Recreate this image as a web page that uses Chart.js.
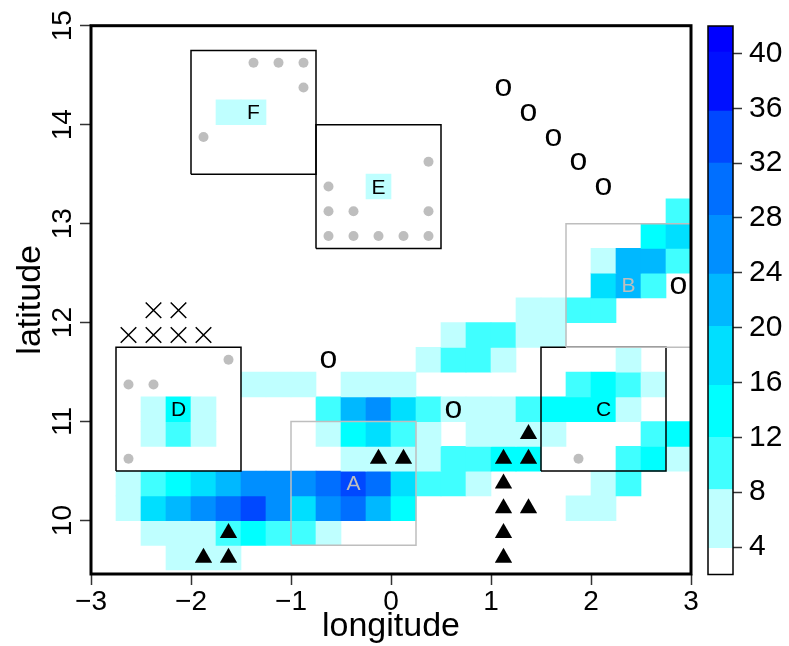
<!DOCTYPE html>
<html>
<head>
<meta charset="utf-8">
<title>longitude latitude grid</title>
<script src="https://cdn.jsdelivr.net/npm/chart.js@4"></script>
<style>
  html, body { margin: 0; padding: 0; background: #fff; }
  canvas { position: absolute; top: 0; }
  #gridChart { left: 0; }
  #barChart { left: 700px; }
</style>
</head>
<body>
<canvas id="gridChart" width="700" height="646"></canvas>
<canvas id="barChart" width="89" height="646"></canvas>
<script>
// --- Data ---
const _ = null;
const lons = [-2.875, -2.625, -2.375, -2.125, -1.875, -1.625, -1.375, -1.125, -0.875, -0.625, -0.375, -0.125,
              0.125, 0.375, 0.625, 0.875, 1.125, 1.375, 1.625, 1.875, 2.125, 2.375, 2.625, 2.875];
const lats = [9.625, 9.875, 10.125, 10.375, 10.625, 10.875, 11.125, 11.375, 11.625, 11.875,
              12.125, 12.375, 12.625, 12.875, 13.125, 13.375, 14.125];
const gridValues = [
  [_, _, _, 6, 6, 6, _, _, _, _, _, _, _, _, _, _, _, _, _, _, _, _, _, _],
  [_, _, 6, 6, 6, 10, 14, 10, 10, 6, _, _, _, _, _, _, _, _, _, _, _, _, _, _],
  [_, 6, 18, 22, 26, 30, 34, 26, 18, 26, 30, 22, 14, _, _, _, _, _, _, 6, 6, _, _, _],
  [_, 6, 10, 14, 18, 22, 26, 26, 26, 30, 34, 30, 18, 10, 10, 6, _, _, _, _, 6, 10, _, _],
  [_, _, _, _, _, _, _, _, _, _, 6, 6, 6, 6, 10, 10, 14, 14, _, _, _, 10, 14, 6],
  [_, _, 6, 10, 6, _, _, _, _, 6, 14, 18, 10, 6, _, 6, 6, 6, 6, _, _, _, 10, 14],
  [_, _, 6, 14, 6, _, _, _, _, 10, 22, 26, 18, 10, 6, 6, 6, 10, 14, 14, 14, 6, _, _],
  [_, _, _, _, _, _, 6, 6, 6, _, 6, 6, 6, _, _, _, _, _, _, 10, 14, 10, 6, _],
  [_, _, _, _, _, _, _, _, _, _, _, _, _, 6, 10, 10, 6, _, _, _, _, 6, _, _],
  [_, _, _, _, _, _, _, _, _, _, _, _, _, _, 6, 10, 10, 6, 6, _, _, _, _, _],
  [_, _, _, _, _, _, _, _, _, _, _, _, _, _, _, _, _, 6, 6, 10, 10, _, _, _],
  [_, _, _, _, _, _, _, _, _, _, _, _, _, _, _, _, _, _, _, _, 18, 22, 10, _],
  [_, _, _, _, _, _, _, _, _, _, _, _, _, _, _, _, _, _, _, _, 6, 22, 22, 10],
  [_, _, _, _, _, _, _, _, _, _, _, _, _, _, _, _, _, _, _, _, _, _, 14, 18],
  [_, _, _, _, _, _, _, _, _, _, _, _, _, _, _, _, _, _, _, _, _, _, _, 10],
  [_, _, _, _, _, _, _, _, _, _, _, 6, _, _, _, _, _, _, _, _, _, _, _, _],
  [_, _, _, _, _, 6, 6, _, _, _, _, _, _, _, _, _, _, _, _, _, _, _, _, _]
];

const xTicks = [-3, -2, -1, 0, 1, 2, 3];
const yTicks = [10, 11, 12, 13, 14, 15];
const barTicks = [4, 8, 12, 16, 20, 24, 28, 32, 36, 40];
const colorBreaks = [2, 3.9, 8.2, 12, 15.8, 20.1, 23.9, 28.2, 32, 35.8, 40.1, 42];
const palette = ['#ffffff', '#bfffff', '#40ffff', '#00ffff', '#00dfff', '#00b8ff',
                 '#008fff', '#006fff', '#0048ff', '#0010ff', '#0000ff'];

const triangleLon = [-1.875, -1.625, -1.625, -0.125, 0.125, 1.125, 1.375, 1.375, 1.125, 1.125, 1.375, 1.125, 1.125];
const triangleLat = [9.625, 9.625, 9.875, 10.625, 10.625, 10.625, 10.625, 10.875, 10.375, 10.125, 10.125, 9.875, 9.625];
const greyLon = [-1.375, -1.125, -0.875, -0.875, -1.875, 0.375, -0.625, -0.625, -0.375, 0.375,
                 -0.625, -0.375, -0.125, 0.125, 0.375, -1.625, -2.625, -2.375, -2.625, 1.875];
const greyLat = [14.625, 14.625, 14.625, 14.375, 13.875, 13.625, 13.375, 13.125, 13.125, 13.125,
                 12.875, 12.875, 12.875, 12.875, 12.875, 11.625, 11.375, 11.375, 10.625, 10.625];
const crossLon = [-2.625, -2.375, -2.125, -1.875, -2.375, -2.125];
const crossLat = [11.875, 11.875, 11.875, 11.875, 12.125, 12.125];
const circleLon = [1.125, 1.375, 1.625, 1.875, 2.125, -0.625, 0.625, 2.875];
const circleLat = [14.375, 14.125, 13.875, 13.625, 13.375, 11.625, 11.125, 12.375];

const boxNames = ['A', 'B', 'C', 'D', 'E', 'F'];
const boxWest = [-1, 1.75, 1.5, -2.75, -0.75, -2];
const boxEast = [0.25, 3, 2.75, -1.5, 0.5, -0.75];
const boxSouth = [9.75, 11.75, 10.5, 10.5, 12.75, 13.5];
const boxNorth = [11, 13, 11.75, 11.75, 14, 14.75];
const boxColor = ['#bebebe', '#bebebe', '#000000', '#000000', '#000000', '#000000'];
const boxLabelLon = [-0.375, 2.375, 2.125, -2.125, -0.125, -1.375];
const boxLabelLat = [10.375, 12.375, 11.125, 11.125, 13.375, 14.125];

const fontName = "'Liberation Sans', Arial, sans-serif";

function colorFor(value) {
    for (let i = 0; i < palette.length; i++) {
        if (value < colorBreaks[i + 1]) return palette[i];
    }
    return palette[palette.length - 1];
}

function zip(xs, ys) {
    return xs.map((x, i) => ({ x: x, y: ys[i] }));
}

// half a cell up and down from each centre
const cells = [];
gridValues.forEach((row, r) => {
    row.forEach((value, c) => {
        if (value !== null) {
            cells.push({ x: lons[c], y: [lats[r] - 0.125, lats[r] + 0.125], value: value });
        }
    });
});

const boxDatasets = boxNames.map((name, i) => ({
    type: 'scatter',
    label: name,
    showLine: true,
    data: [
        { x: boxWest[i], y: boxSouth[i] },
        { x: boxEast[i], y: boxSouth[i] },
        { x: boxEast[i], y: boxNorth[i] },
        { x: boxWest[i], y: boxNorth[i] },
        { x: boxWest[i], y: boxSouth[i] }
    ],
    borderColor: boxColor[i],
    borderWidth: 1.5,
    pointRadius: 0,
    fill: false,
    clip: false,
    order: 3
}));

// --- Letters and the "o" markers are real text ---
const mapText = {
    id: 'mapText',
    afterDatasetsDraw(chart) {
        const { ctx, scales: { x, y } } = chart;
        ctx.save();
        ctx.textAlign = 'center';
        ctx.textBaseline = 'alphabetic';
        ctx.font = '32px ' + fontName;
        ctx.fillStyle = '#000';
        circleLon.forEach((lon, i) => {
            const m = ctx.measureText('o');
            const mid = (m.actualBoundingBoxAscent - m.actualBoundingBoxDescent) / 2;
            ctx.fillText('o', x.getPixelForValue(lon), y.getPixelForValue(circleLat[i]) + mid);
        });
        ctx.font = '21px ' + fontName;
        boxNames.forEach((name, i) => {
            const m = ctx.measureText(name);
            const mid = (m.actualBoundingBoxAscent - m.actualBoundingBoxDescent) / 2;
            ctx.fillStyle = boxColor[i];
            ctx.fillText(name, x.getPixelForValue(boxLabelLon[i]), y.getPixelForValue(boxLabelLat[i]) + mid);
        });
        ctx.restore();
    }
};

function frameOf(lineWidth) {
    return {
        id: 'frame',
        afterDatasetsDraw(chart) {
            const { ctx, chartArea: a } = chart;
            ctx.save();
            ctx.strokeStyle = '#000';
            ctx.lineWidth = lineWidth;
            ctx.strokeRect(a.left, a.top, a.right - a.left, a.bottom - a.top);
            ctx.restore();
        }
    };
}

new Chart(document.getElementById('gridChart'), {
    type: 'bar',
    data: {
        datasets: [
            {
                label: 'cells',
                data: cells,
                backgroundColor: (c) => c.raw ? colorFor(c.raw.value) : '#fff',
                barPercentage: 1,
                categoryPercentage: 1,
                grouped: false,
                order: 5
            },
            ...boxDatasets,
            {
                type: 'scatter', label: 'grey', data: zip(greyLon, greyLat),
                pointStyle: 'circle', pointRadius: 5, backgroundColor: '#bebebe', borderWidth: 0, order: 2
            },
            {
                type: 'scatter', label: 'triangles', data: zip(triangleLon, triangleLat),
                pointStyle: 'triangle', pointRadius: 10, backgroundColor: '#000', borderWidth: 0, order: 1
            },
            {
                type: 'scatter', label: 'crosses', data: zip(crossLon, crossLat),
                pointStyle: 'crossRot', pointRadius: 11, borderColor: '#000', borderWidth: 1.5, order: 1
            }
        ]
    },
    options: {
        responsive: false,
        animation: false,
        layout: { autoPadding: false, padding: { top: 25.7, right: 9, left: 0, bottom: 0 } },
        plugins: { legend: { display: false }, tooltip: { enabled: false } },
        scales: {
            x: {
                type: 'linear',
                min: -3,
                max: 3,
                offset: false,
                afterBuildTicks: (scale) => { scale.ticks = xTicks.map(v => ({ value: v })); },
                afterFit: (scale) => { scale.height = 72; scale.paddingLeft = 0; scale.paddingRight = 0; },
                grid: { drawOnChartArea: false, offset: false, tickLength: 11, tickWidth: 1.5, tickColor: '#333' },
                border: { display: false },
                ticks: {
                    autoSkip: false,
                    maxRotation: 0,
                    padding: 0,
                    color: '#000',
                    font: { family: fontName, size: 28 },
                    callback: (v) => String(v).replace('-', '\u2212')
                },
                title: {
                    display: true,
                    text: 'longitude',
                    color: '#000',
                    font: { family: fontName, size: 34 },
                    padding: { top: 0, bottom: -1 }
                }
            },
            y: {
                type: 'linear',
                min: 9.46,
                max: 15,
                afterBuildTicks: (scale) => { scale.ticks = yTicks.map(v => ({ value: v })); },
                afterFit: (scale) => { scale.width = 91; scale.paddingTop = 0; scale.paddingBottom = 0; },
                grid: { drawOnChartArea: false, tickLength: 11, tickWidth: 1.5, tickColor: '#333' },
                border: { display: false },
                ticks: {
                    autoSkip: false,
                    minRotation: 90,
                    maxRotation: 90,
                    crossAlign: 'center',
                    padding: 1,
                    color: '#000',
                    font: { family: fontName, size: 28 }
                },
                title: {
                    display: true,
                    text: 'latitude',
                    color: '#000',
                    font: { family: fontName, size: 34 },
                    padding: { top: 10, bottom: 0 }
                }
            }
        }
    },
    plugins: [mapText, frameOf(3)]
});

// --- Colour bar ---
new Chart(document.getElementById('barChart'), {
    type: 'bar',
    data: {
        labels: [''],
        datasets: palette.map((color, i) => ({
            data: [[colorBreaks[i], colorBreaks[i + 1]]],
            backgroundColor: color,
            barPercentage: 1,
            categoryPercentage: 1,
            grouped: false
        }))
    },
    options: {
        responsive: false,
        animation: false,
        layout: { padding: { top: 26, left: 8, right: 0, bottom: 71.5 } },
        plugins: { legend: { display: false }, tooltip: { enabled: false } },
        scales: {
            x: { display: false },
            y: {
                position: 'right',
                min: 2,
                max: 42,
                afterBuildTicks: (scale) => { scale.ticks = barTicks.map(v => ({ value: v })); },
                afterFit: (scale) => { scale.width = 56; scale.paddingTop = 0; scale.paddingBottom = 0; },
                grid: { drawOnChartArea: false, tickLength: 9, tickWidth: 1.5, tickColor: '#333' },
                border: { display: false },
                ticks: {
                    autoSkip: false,
                    padding: 7,
                    color: '#000',
                    font: { family: fontName, size: 30 }
                }
            }
        }
    },
    plugins: [frameOf(1.5)]
});
</script>
</body>
</html>
